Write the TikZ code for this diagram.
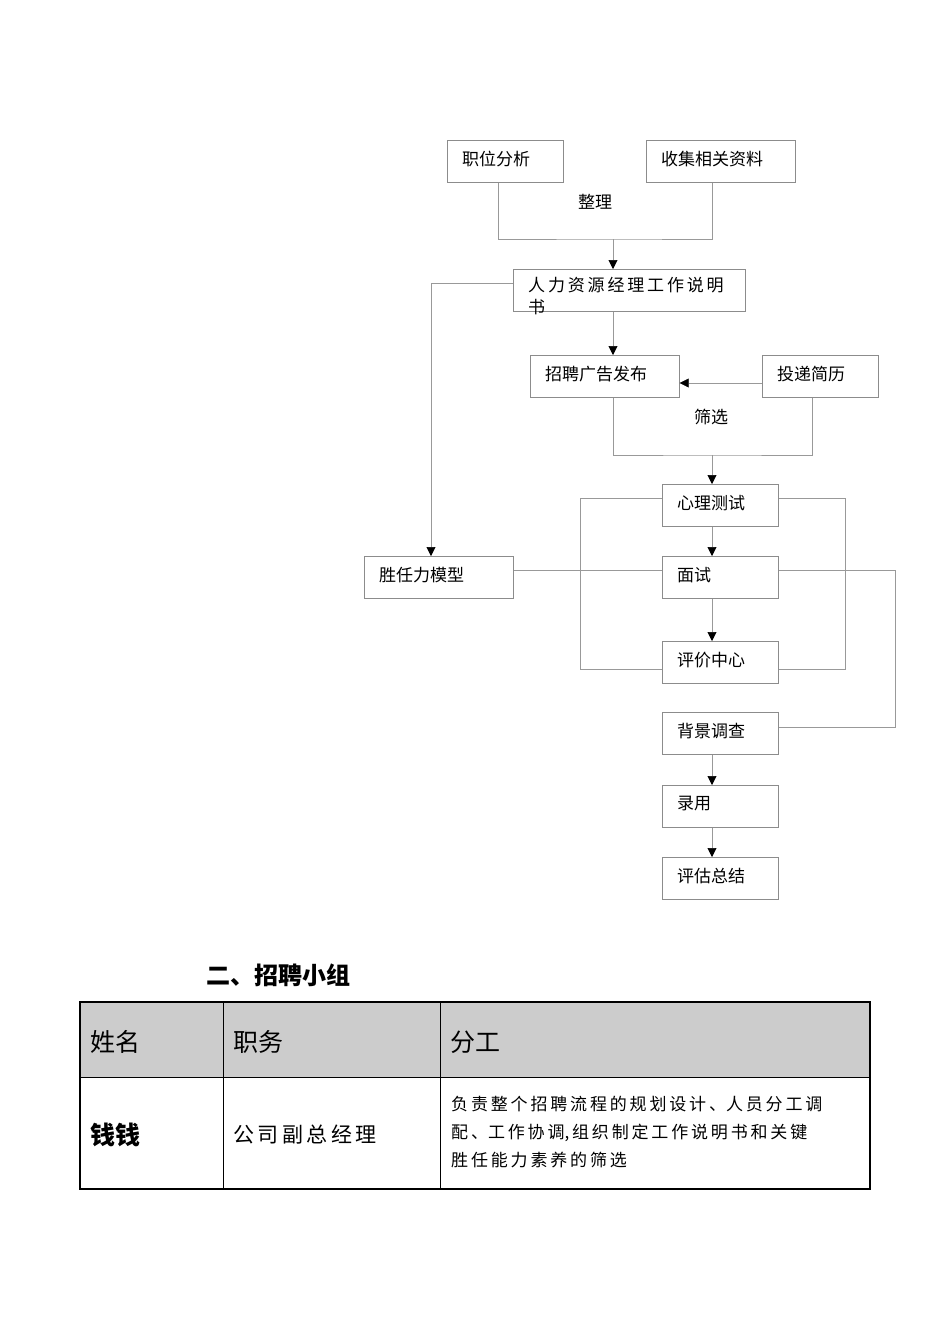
\documentclass[tikz,border=0pt]{standalone}
\usepackage{fontspec}
\setmainfont{Noto Sans CJK SC}
\usetikzlibrary{arrows.meta}
\begin{document}
\begin{tikzpicture}[x=1pt,y=-1pt,
 box/.style={draw=black!45,line width=0.7pt,minimum height=42pt,inner sep=0pt},
 ln/.style={draw=black!40,line width=0.6pt},
 ar/.style={ln,-{Triangle[length=9pt,width=9pt,black]}},
 txt/.style={font=\fontsize{17}{20}\selectfont,anchor=west,inner sep=0pt}]
\useasboundingbox (0,0) rectangle (950,1342);
\newcommand{\bx}[6]{\node[box,minimum width=#4-#3,anchor=north west] (#1) at (#3,#5) {};
 \node[txt] at (#3+15,#5+19) {#2};}
\bx{a}{职位分析}{447}{563}{140}{}
\bx{b}{收集相关资料}{646}{795}{140}{}
\node[box,minimum width=232,anchor=north west] (c) at (513,269) {};
\node[txt,anchor=north west,align=left,font=\fontsize{17}{22}\selectfont] at (528,277) {人\,力\,资\,源\,经\,理\,工\,作\,说\,明\\书};
\bx{d}{招聘广告发布}{530}{679}{355}{}
\bx{e}{投递简历}{762}{878}{355}{}
\bx{f}{心理测试}{662}{778}{484}{}
\bx{g}{面试}{662}{778}{556}{}
\bx{h}{评价中心}{662}{778}{641}{}
\bx{i}{背景调查}{662}{778}{712}{}
\bx{j}{录用}{662}{778}{785}{}
\bx{k}{评估总结}{662}{778}{857}{}
\bx{m}{胜任力模型}{364}{513}{556}{}
\node[txt] at (578,202) {整理};
\node[txt] at (694,417) {筛选};
\coordinate (p1) at (613,239);
\coordinate (p2) at (712,455);
\draw[ln] (a.south -| 498,0) |- (p1) -| (b.south -| 712,0);
\draw[ar] (p1) -- (c.north -| p1);
\draw[ar] (c.south -| 613,0) -- (d.north -| 613,0);
\draw[ar] (e.west |- 0,383) -- (d.east |- 0,383);
\draw[ln] (d.south -| 613,0) |- (p2) -| (e.south -| 812,0);
\draw[ar] (p2) -- (f.north -| p2);
\draw[ar] (c.west |- 0,283) -| (m.north -| 431,0);
\draw[ln] (f.west |- 0,498) -| (580,669) -- (h.west |- 0,669);
\draw[ln] (f.east |- 0,498) -| (845,669) -- (h.east |- 0,669);
\draw[ln] (m.east |- 0,570) -- (g.west |- 0,570);
\draw[ln] (g.east |- 0,570) -| (895,727) -- (i.east |- 0,727);
\draw[ar] (f.south -| 712,0) -- (g.north -| 712,0);
\draw[ar] (g.south -| 712,0) -- (h.north -| 712,0);
\draw[ar] (i.south -| 712,0) -- (j.north -| 712,0);
\draw[ar] (j.south -| 712,0) -- (k.north -| 712,0);
% table
\node[anchor=west,inner sep=0pt,font=\fontsize{24}{28}\selectfont\bfseries] (t) at (206,975) {二、招聘小组};
\fill[black!20] (80,1002) rectangle (870,1077);
\draw[line width=1pt] (80,1077) -- (870,1077) (223,1002) -- (223,1189) (440,1002) -- (440,1189);
\draw[line width=2.5pt] (80,1002) rectangle (870,1189);
\node[anchor=west,inner sep=0pt,font=\fontsize{25}{28}\selectfont] at (90,1042) {姓名};
\node[anchor=west,inner sep=0pt,font=\fontsize{25}{28}\selectfont] at (233,1042) {职务};
\node[anchor=west,inner sep=0pt,font=\fontsize{25}{28}\selectfont] at (450,1042) {分工};
\node[anchor=west,inner sep=0pt,font=\fontsize{25}{28}\selectfont\bfseries] at (90,1135) {钱钱};
\node[anchor=west,inner sep=0pt,font=\fontsize{21}{24}\selectfont] at (233,1135) {公\,司\,副\,总\,经\,理};
\node[anchor=north west,inner sep=0pt,align=left,font=\fontsize{17}{28}\selectfont] at (451,1096) {负\,责\,整\,个\,招\,聘\,流\,程\,的\,规\,划\,设\,计\,、人\,员\,分\,工\,调\\配\,、工\,作\,协\,调,\,组\,织\,制\,定\,工\,作\,说\,明\,书\,和\,关\,键\\胜\,任\,能\,力\,素\,养\,的\,筛\,选};
\end{tikzpicture}
\end{document}
